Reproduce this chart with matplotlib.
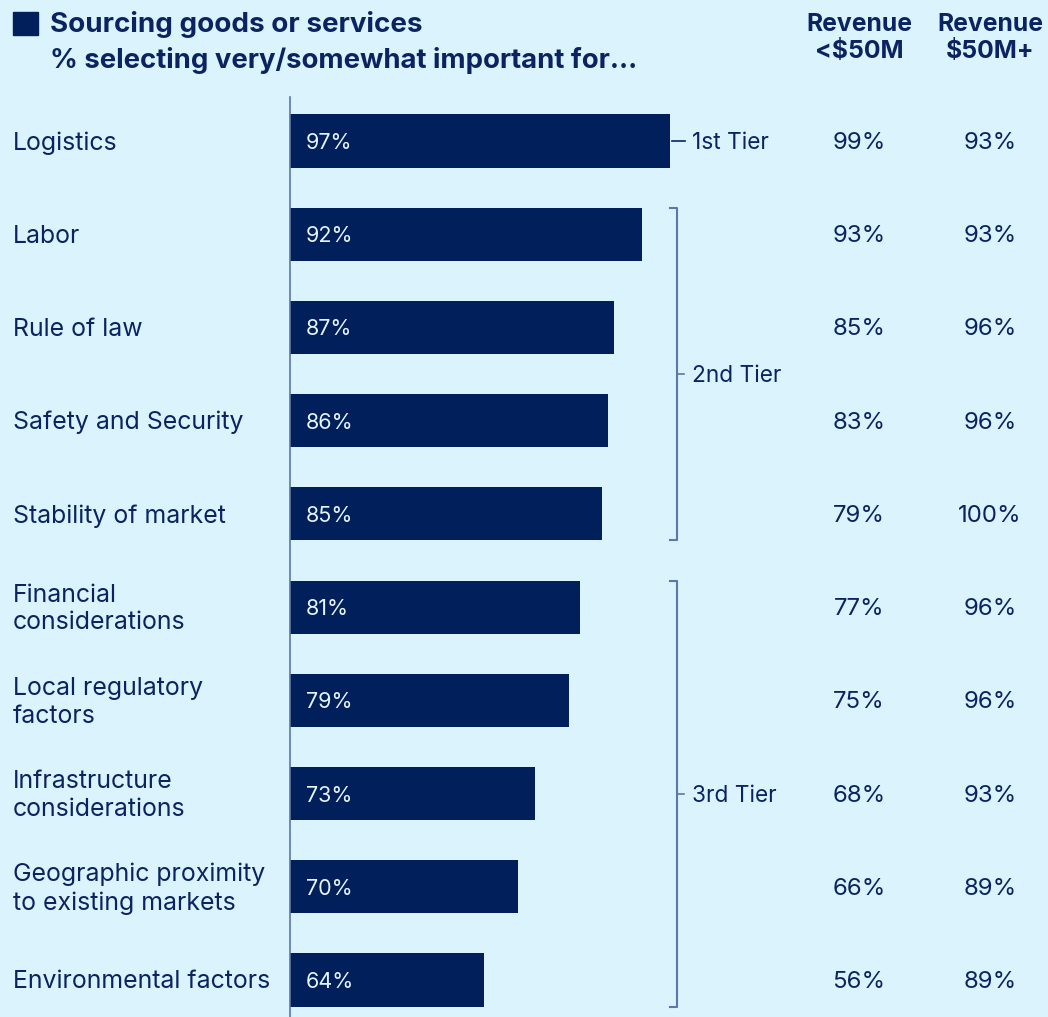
import matplotlib
matplotlib.use("Agg")
import matplotlib.pyplot as plt
import matplotlib.transforms as mtransforms

categories = ["Logistics", "Labor", "Rule of law", "Safety and Security", "Stability of market",
              "Financial\nconsiderations", "Local regulatory\nfactors", "Infrastructure\nconsiderations",
              "Geographic proximity\nto existing markets", "Environmental factors"]
overall = [97, 92, 87, 86, 85, 81, 79, 73, 70, 64]
rev_small = [99, 93, 85, 83, 79, 77, 75, 68, 66, 56]
rev_large = [93, 93, 96, 96, 100, 96, 96, 93, 89, 89]
tiers = [("1st Tier", 0, 0), ("2nd Tier", 1, 4), ("3rd Tier", 5, 9)]
title_lines = ["Sourcing goods or services", "% selecting very/somewhat important for..."]
col_headers = ["Revenue\n<$50M", "Revenue\n$50M+"]

BG = "#daf3fc"
NAVY = "#001f5b"
TEXT = "#0b2461"
LINE = "#5b78a6"
FONT = "Inter"

W, H = 1048, 1017
fig = plt.figure(figsize=(W / 100, H / 100), dpi=100, facecolor=BG)

def fx(px):
    return px / W

def fy(py):
    return 1 - py / H

ax_left, ax_right, ax_top, ax_bot = 290, 685, 97, 1017
ax = fig.add_axes([fx(ax_left), fy(ax_bot), fx(ax_right - ax_left), (ax_bot - ax_top) / H])
ax.set_facecolor(BG)
ax.set_xlim(29.6, 29.6 + (ax_right - ax_left) / 5.64)
ax.set_ylim(9.397, -0.472)
for s in ["top", "right", "bottom"]:
    ax.spines[s].set_visible(False)
ax.spines["left"].set_color(LINE)
ax.spines["left"].set_linewidth(1.2)
ax.set_xticks([])
ax.set_yticks([])

# small downward offset for text (pixels)
down = mtransforms.ScaledTranslation(0, -2 / 100, fig.dpi_scale_trans)

ypos = list(range(len(categories)))
ax.barh(ypos, overall, left=0, height=0.57, color=NAVY, zorder=2)
x0 = ax.get_xlim()[0]
for y, v in zip(ypos, overall):
    ax.text(x0 + 16 / 5.64, y, f"{v}%", color="#e6f4fb", fontsize=15.5, family=FONT,
            va="center", ha="left", zorder=3, transform=ax.transData + down)

blend = mtransforms.blended_transform_factory(fig.transFigure, ax.transData) + down
for y, cat, a, b in zip(ypos, categories, rev_small, rev_large):
    fig.text(fx(13), y, cat, transform=blend, fontsize=17.9, family=FONT, color=TEXT,
             va="center", ha="left", linespacing=1.25)
    fig.text(fx(859), y, f"{a}%", transform=blend, fontsize=17.3, family=FONT, color=TEXT,
             va="center", ha="center")
    fig.text(fx(990), y, f"{b}%", transform=blend, fontsize=17.3, family=FONT, color=TEXT,
             va="center", ha="center")

# tier brackets
half = 0.57 / 2
def px2x(px):
    return x0 + (px - ax_left) / 5.64
for name, s, e in tiers:
    if s == e:
        ax.plot([px2x(672), px2x(685)], [s, s], color=TEXT, lw=1.2, clip_on=False)
        mid = s
    else:
        top, bot = s - half, e + half
        ax.plot([px2x(670), px2x(677), px2x(677), px2x(670)], [top, top, bot, bot],
                color=LINE, lw=1.5, clip_on=False)
        mid = (top + bot) / 2
        ax.plot([px2x(677), px2x(684)], [mid, mid], color=LINE, lw=1.2, clip_on=False)
    ax.text(px2x(692), mid, name, fontsize=16.3, family=FONT, color=TEXT, va="center",
            ha="left", clip_on=False, transform=ax.transData + down)

# title
fig.patches.append(plt.Rectangle((fx(13), fy(35)), fx(25), 23 / H, transform=fig.transFigure,
                                 color=NAVY))
fig.text(fx(50), fy(24), title_lines[0], fontsize=20, fontweight="bold", family=FONT,
         color=TEXT, va="center", ha="left")
fig.text(fx(50), fy(61), title_lines[1], fontsize=19.8, fontweight="bold", family=FONT,
         color=TEXT, va="center", ha="left")
for xc, hdr in zip([859, 990], col_headers):
    fig.text(fx(xc), fy(38), hdr, fontsize=17.8, fontweight="bold", family=FONT,
             color=TEXT, va="center", ha="center", linespacing=1.2)

fig.savefig("out.png", dpi=100, facecolor=BG)
